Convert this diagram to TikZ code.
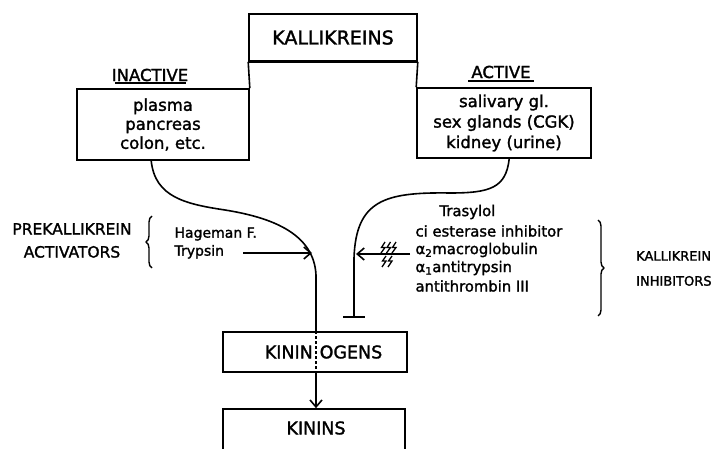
\documentclass[tikz,border=0pt]{standalone}
\usepackage{fontspec}
\setmainfont{DejaVu Sans}[BoldFont={DejaVu Sans},BoldFeatures={FakeBold=1.6}]
\usetikzlibrary{decorations.pathreplacing,arrows.meta,calc}
\begin{document}
\begin{tikzpicture}[x=1pt,y=-1pt,
  box/.style={draw,line width=1.6pt,inner sep=0pt,align=center},
  ln/.style={line width=1.6pt},
  arr/.style={ln,-{Straight Barb[length=7pt,width=12pt,line width=1.6pt]}},
  big/.style={font=\fontsize{17.5}{20}\selectfont\bfseries},
  mid/.style={font=\fontsize{16.5}{19}\selectfont\bfseries},
  sml/.style={font=\fontsize{14}{18}\selectfont\bfseries},
  lst/.style={font=\fontsize{14.8}{18}\selectfont\bfseries},
  lbl/.style={font=\fontsize{15.5}{23}\selectfont\bfseries},
  brace/.style={decorate,decoration={brace,amplitude=6pt},line width=1.4pt},
  zig/.style={line width=1.3pt}]
\useasboundingbox (0,0) rectangle (713,449);
\clip (0,0) rectangle (713,449);

% boxes
\node[box,minimum width=168pt,minimum height=47pt,font=\fontsize{19}{20}\selectfont\bfseries] (kal) at (333,37.5) {KALLIKREINS};
\draw[line width=3pt] (kal.south west) -- (kal.south east);
\node[box,mid,minimum width=172pt,minimum height=71pt] (inact) at (163,124.5) {plasma\\pancreas\\colon, etc.};
\node[box,minimum width=174pt,minimum height=70pt,font=\fontsize{16.5}{20.5}\selectfont\bfseries] (act) at (504,123) {salivary gl.\\sex glands (CGK)\\kidney (urine)};
\draw[ln] (kal.south west) -- (inact.north east);
\draw[ln] (kal.south east) -- (act.north west);

\node[mid] (inlab) at (150,75) {INACTIVE};
\draw[ln] (115,83) -- (186,83);
\node[mid] (aclab) at (501,72) {ACTIVE};
\draw[ln] (468,81) -- (534,81);

\node[box,minimum width=184pt,minimum height=40pt] (kgen) at (315,352) {};
\node[big,anchor=east,inner sep=0pt] (kg1) at (313,352) {KININ};
\node[big,anchor=west,inner sep=0pt] (kg2) at (319.5,352) {OGENS};
\node[box,minimum width=182pt,minimum height=61pt] (kin) at (314,439.5) {};
\node[big] (kintxt) at (316,428) {KININS};

\coordinate (p) at (316,0);

% inactive path
\draw[ln] ($(inact.south west)+(75,0)$) .. controls (155,197) and (185,204) .. (225,210)
  .. controls (275,218) and (314,235) .. (316,275) -- (kgen.north -| p);
\draw[ln,dash pattern=on 3pt off 2pt] (kgen.north -| p) -- (kgen.south -| p);
\draw[arr] (kgen.south -| p) -- (kin.north -| p);

% active path
\coordinate (tb) at (354,317);
\draw[ln] ($(act.south west)+(93,0)$) .. controls (506,188) and (490,193) .. (450,193)
  .. controls (385,192) and (356,200) .. (354,258) -- (tb);
\draw[line width=2.8pt] ($(tb)+(-11,0)$) -- ($(tb)+(11,0)$);

% activators
\node[lbl,align=center] (prek) at (72,240.5) {PREKALLIKREIN\\ACTIVATORS};
\draw[brace] (152,268) -- (152,216);
\node[sml,align=left,anchor=west] (hag) at (171,243) {Hageman F.\\Trypsin};
\coordinate (ta) at (243,253);
\coordinate (tb2) at (312,253);
\draw[arr] (ta) -- (tb2);

% inhibitors
\node[lst,anchor=west] (i0) at (436,212) {Trasylol};
\node[lst,anchor=west] (i1) at (412,231) {ci esterase inhibitor};
\node[lst,anchor=west] (i2) at (412,250) {α\textsubscript{2}macroglobulin};
\node[lst,anchor=west] (i3) at (412,268) {α\textsubscript{1}antitrypsin};
\node[lst,anchor=west] (i4) at (412,286) {antithrombin III};
\coordinate (ia) at (410,254);
\coordinate (ib) at (356,254);
\draw[arr] (ia) -- (ib);
\foreach \x in {380,385.5,391}
  \draw[zig] (\x+5,242) -- (\x+1.5,247.5) -- (\x+5,247.5) -- (\x+1,253);
\foreach \x in {381,387}
  \draw[zig] (\x+5,256) -- (\x+1.5,261) -- (\x+5,261) -- (\x+1,267);
\draw[brace] (598,220) -- (598,316);
\node[align=left,anchor=west,inner sep=0pt,font=\fontsize{13}{25}\selectfont\bfseries] (kinh) at (636,268.5) {KALLIKREIN\\INHIBITORS};
\end{tikzpicture}
\end{document}
